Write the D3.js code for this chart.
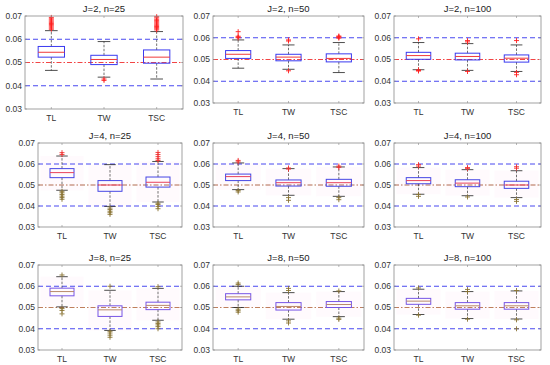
<!DOCTYPE html>
<html><head><meta charset="utf-8">
<script src="https://cdn.jsdelivr.net/npm/d3@7"></script>
<style>body{margin:0;background:#fff}svg{display:block}text{font-family:"Liberation Sans",Arial,sans-serif}</style>
</head><body><svg id="c" width="550" height="365"></svg>
<script>
const categories = ["TL","TW","TSC"];
const panelTitles = ["J=2, n=25","J=2, n=50","J=2, n=100","J=4, n=25","J=4, n=50","J=4, n=100","J=8, n=25","J=8, n=50","J=8, n=100"];
const yTicks = [0.03,0.04,0.05,0.06,0.07];
const yTickLabels = ["0.03","0.04","0.05","0.06","0.07"];
const refBands = [0.04,0.06];
const nominal = 0.05;
// per panel, per category [TL, TW, TSC]
const whiskerLow = [
 [0.0466,0.0437,0.0429],[0.0460,0.0455,0.0440],[0.0453,0.0450,0.0445],
 [0.0475,0.0398,0.0419],[0.0478,0.0451,0.0446],[0.0456,0.0449,0.0440],
 [0.0503,0.0392,0.0440],[0.0500,0.0445,0.0457],[0.0467,0.0448,0.0446]];
const q1 = [
 [0.0523,0.0491,0.0497],[0.0505,0.0494,0.0489],[0.0501,0.0498,0.0488],
 [0.0535,0.0470,0.0490],[0.0521,0.0495,0.0494],[0.0506,0.0492,0.0484],
 [0.0555,0.0458,0.0490],[0.0536,0.0488,0.0500],[0.0515,0.0492,0.0492]];
const median = [
 [0.0544,0.0513,0.0523],[0.0524,0.0511,0.0505],[0.0518,0.0514,0.0506],
 [0.0559,0.0500,0.0513],[0.0540,0.0511,0.0511],[0.0521,0.0509,0.0500],
 [0.0575,0.0489,0.0510],[0.0550,0.0505,0.0514],[0.0530,0.0508,0.0508]];
const q3 = [
 [0.0569,0.0531,0.0554],[0.0541,0.0524,0.0526],[0.0533,0.0529,0.0521],
 [0.0578,0.0521,0.0538],[0.0552,0.0524,0.0527],[0.0535,0.0525,0.0518],
 [0.0591,0.0508,0.0525],[0.0565,0.0523,0.0528],[0.0543,0.0523,0.0523]];
const whiskerHigh = [
 [0.0637,0.0590,0.0633],[0.0590,0.0567,0.0578],[0.0578,0.0573,0.0567],
 [0.0638,0.0597,0.0612],[0.0605,0.0578,0.0586],[0.0583,0.0573,0.0568],
 [0.0645,0.0581,0.0590],[0.0600,0.0570,0.0575],[0.0586,0.0575,0.0578]];
const outliersHigh = [
 [[0.0643,0.0648,0.0653,0.0658,0.0663,0.0668,0.0673,0.0678,0.0683,0.0688,0.0694],[],[0.0640,0.0645,0.0650,0.0655,0.0660,0.0665,0.0670,0.0675,0.0680,0.0686,0.0692,0.0697]],
 [[0.0600,0.0603,0.0607,0.0628],[0.0585,0.0590],[0.0598,0.0602,0.0605,0.0608]],
 [[0.0595],[0.0581,0.0587],[0.0587]],
 [[0.0645,0.0654],[],[0.0617,0.0625,0.0635,0.0645,0.0655]],
 [[0.0610,0.0617],[0.0576,0.0581],[0.0584,0.0590]],
 [[0.0590,0.0597],[0.0578,0.0583],[0.0580,0.0587]],
 [[0.0653],[0.0600],[0.0598]],
 [[0.0608,0.0615],[0.0580,0.0590],[0.0578]],
 [[0.0592],[0.0575,0.0585],[0.0580]]];
const outliersLow = [
 [[],[0.0429,0.0423],[]],
 [[],[0.0448],[]],
 [[0.0452,0.0450,0.0447],[0.0445],[0.0441,0.0430]],
 [[0.0470,0.0463,0.0455,0.0447,0.0440,0.0432],[0.0390,0.0383,0.0375,0.0368,0.0360],[0.0413,0.0407,0.0398,0.0387]],
 [[0.0474,0.0467],[0.0440,0.0427],[0.0440,0.0430]],
 [[0.0455,0.0446],[0.0443],[0.0431,0.0422]],
 [[0.0495,0.0486,0.0470],[0.0388,0.0380,0.0370,0.0360],[0.0432,0.0425,0.0418,0.0410,0.0400]],
 [[0.0492,0.0485,0.0478],[0.0437,0.0427],[0.0450,0.0444]],
 [[0.0464],[0.0445],[0.0442,0.0400]]];

// layout
const colX = [[38,182],[213,364],[394,541]];
const rowY = [[16,103],[143,227],[265,350]];
const rowStyle = [
 {box:"#3a3af0", med:"#f03a3a", outHi:"#ff1f1f", outLo:"#ff1f1f", nom:"#f03030", haze:0},
 {box:"#4646e4", med:"#e8405a", outHi:"#f03030", outLo:"#8a7434", nom:"#a85a3a", haze:0.03},
 {box:"#7755e6", med:"#b8896a", outHi:"#8a7434", outLo:"#8a7434", nom:"#b8704a", haze:0.03}];

const svg = d3.select("#c");
panelTitles.forEach((title, p) => {
  const r = Math.floor(p/3), c = p%3;
  let [x0,x1] = colX[c], [y0,y1] = rowY[r];
  if (p === 0) { x0 = 25; x1 = 183; y1 = 109; }
  const st = rowStyle[r];
  const x = d3.scaleLinear().domain([0.5,3.5]).range([x0,x1]);
  const y = d3.scaleLinear().domain([0.03,0.07]).range([y1,y0]);
  const g = svg.append("g");
  const unit = x(2)-x(1);
  if (st.haze>0) categories.forEach((cat,i)=>{
    g.append("rect").attr("x",x(i+1)-unit*0.45).attr("width",unit*0.9)
     .attr("y",y(whiskerHigh[p][i])).attr("height",y(whiskerLow[p][i])-y(whiskerHigh[p][i]))
     .attr("fill","#ff60c0").attr("opacity",st.haze);
  });
  refBands.forEach(v=>{
    g.append("line").attr("x1",x0).attr("x2",x1).attr("y1",y(v)).attr("y2",y(v))
     .attr("stroke","#4848f0").attr("stroke-width",1).attr("stroke-dasharray","5,3");
  });
  g.append("line").attr("x1",x0).attr("x2",x1).attr("y1",y(nominal)).attr("y2",y(nominal))
   .attr("stroke",st.nom).attr("stroke-width",0.9).attr("stroke-dasharray","5,2,1.5,2");
  categories.forEach((cat,i)=>{
    const cx = x(i+1), hw = unit*0.25, cw = unit*0.12;
    g.append("line").attr("x1",cx).attr("x2",cx).attr("y1",y(q3[p][i])).attr("y2",y(whiskerHigh[p][i]))
     .attr("stroke","#333").attr("stroke-width",0.7).attr("stroke-dasharray","2.5,1.5");
    g.append("line").attr("x1",cx).attr("x2",cx).attr("y1",y(q1[p][i])).attr("y2",y(whiskerLow[p][i]))
     .attr("stroke","#333").attr("stroke-width",0.7).attr("stroke-dasharray","2.5,1.5");
    [whiskerHigh[p][i], whiskerLow[p][i]].forEach(v=>{
      g.append("line").attr("x1",cx-cw).attr("x2",cx+cw).attr("y1",y(v)).attr("y2",y(v))
       .attr("stroke","#222").attr("stroke-width",0.8);
    });
    g.append("rect").attr("x",cx-hw).attr("width",2*hw).attr("y",y(q3[p][i]))
     .attr("height",y(q1[p][i])-y(q3[p][i])).attr("fill","none").attr("stroke",st.box).attr("stroke-width",1);
    g.append("line").attr("x1",cx-hw).attr("x2",cx+hw).attr("y1",y(median[p][i])).attr("y2",y(median[p][i]))
     .attr("stroke",st.med).attr("stroke-width",1);
    const plus = (v,col)=>{
      const py = y(v);
      g.append("path").attr("d",`M${cx-2.5},${py}H${cx+2.5}M${cx},${py-2.5}V${py+2.5}`)
       .attr("stroke",col).attr("stroke-width",0.9).attr("fill","none");
    };
    outliersHigh[p][i].forEach(v=>plus(v,st.outHi));
    outliersLow[p][i].forEach(v=>plus(v,st.outLo));
  });
  g.append("rect").attr("x",x0).attr("y",y0).attr("width",x1-x0).attr("height",y1-y0)
   .attr("fill","none").attr("stroke","#8a8a8a").attr("stroke-width",0.8);
  yTicks.forEach((v,k)=>{
    g.append("line").attr("x1",x0).attr("x2",x0+2).attr("y1",y(v)).attr("y2",y(v)).attr("stroke","#8a8a8a").attr("stroke-width",0.6);
    g.append("line").attr("x1",x1).attr("x2",x1-2).attr("y1",y(v)).attr("y2",y(v)).attr("stroke","#8a8a8a").attr("stroke-width",0.6);
    g.append("text").attr("x",x0-3).attr("y",y(v)).attr("dy","0.35em").attr("text-anchor","end")
     .attr("font-size",8.5).attr("fill","#333").text(yTickLabels[k]);
  });
  categories.forEach((cat,i)=>{
    g.append("line").attr("x1",x(i+1)).attr("x2",x(i+1)).attr("y1",y1).attr("y2",y1-2).attr("stroke","#8a8a8a").attr("stroke-width",0.6);
    g.append("line").attr("x1",x(i+1)).attr("x2",x(i+1)).attr("y1",y0).attr("y2",y0+2).attr("stroke","#8a8a8a").attr("stroke-width",0.6);
    g.append("text").attr("x",x(i+1)).attr("y",y1+12).attr("text-anchor","middle")
     .attr("font-size",8.5).attr("fill","#333").text(cat);
  });
  g.append("text").attr("x",(x0+x1)/2).attr("y",y0-4).attr("text-anchor","middle")
   .attr("font-size",9.5).attr("fill","#222").text(title);
});
</script></body></html>
